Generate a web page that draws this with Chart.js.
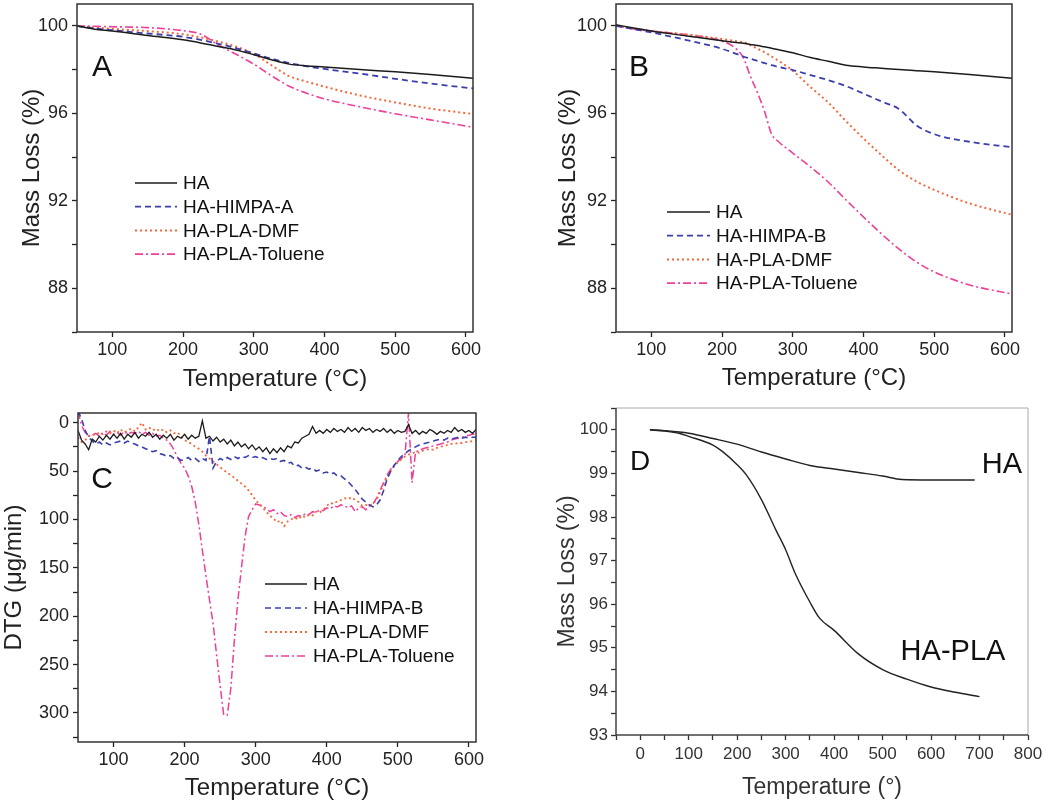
<!DOCTYPE html>
<html>
<head>
<meta charset="utf-8">
<title>TGA / DTG</title>
<script src="https://cdn.jsdelivr.net/npm/chart.js@4.4.0/dist/chart.umd.min.js"></script>
<style>
  body { margin: 0; background: #fff; }
  .panel { position: absolute; }
</style>
</head>
<body>
<div class="panel" style="left:0;top:0"><canvas id="chartA" width="525" height="400"></canvas></div>
<div class="panel" style="left:539px;top:0"><canvas id="chartB" width="511" height="400"></canvas></div>
<div class="panel" style="left:0;top:400px"><canvas id="chartC" width="525" height="411"></canvas></div>
<div class="panel" style="left:539px;top:400px"><canvas id="chartD" width="511" height="411"></canvas></div>
<script>
const fontFamily = "'Liberation Sans', Arial, sans-serif";

// Panel A - TGA, HIMPA-A
const tempA = [50, 75, 100, 150, 200, 225, 250, 275, 300, 325, 350, 375, 400, 450, 500, 550, 610];
const haA      = [100.0, 99.85, 99.77, 99.56, 99.36, 99.22, 99.06, 98.9, 98.68, 98.45, 98.25, 98.17, 98.12, 98.0, 97.9, 97.78, 97.6];
const himpaA   = [100.0, 99.88, 99.8, 99.65, 99.5, 99.36, 99.18, 98.98, 98.74, 98.5, 98.3, 98.15, 98.03, 97.82, 97.58, 97.36, 97.14];
const dmfA     = [100.0, 99.92, 99.86, 99.76, 99.62, 99.47, 99.28, 99.05, 98.72, 98.2, 97.7, 97.45, 97.22, 96.82, 96.5, 96.22, 95.97];
const tolueneA = [100.0, 99.98, 99.96, 99.92, 99.78, 99.62, 99.12, 98.7, 98.25, 97.72, 97.24, 96.92, 96.66, 96.3, 95.98, 95.7, 95.36];

// Panel B - TGA, HIMPA-B
const tempB = [50, 75, 100, 150, 200, 220, 230, 240, 250, 260, 270, 280, 300, 325, 350, 375, 400, 425, 450, 475, 500, 550, 610];
const haB      = [100.05, 99.9, 99.76, 99.54, 99.32, 99.24, 99.2, 99.15, 99.1, 99.04, 98.98, 98.91, 98.77, 98.55, 98.38, 98.2, 98.12, 98.06, 98.0, 97.95, 97.9, 97.78, 97.6];
const himpaB   = [100.0, 99.85, 99.7, 99.35, 98.95, 98.72, 98.6, 98.5, 98.4, 98.3, 98.2, 98.12, 97.98, 97.75, 97.52, 97.25, 96.9, 96.55, 96.2, 95.45, 95.05, 94.7, 94.45];
const dmfB     = [100.0, 99.88, 99.76, 99.6, 99.4, 99.3, 99.25, 99.12, 98.95, 98.8, 98.6, 98.4, 97.95, 97.2, 96.5, 95.65, 94.85, 94.1, 93.4, 92.88, 92.5, 91.88, 91.36];
const tolueneB = [100.0, 99.86, 99.76, 99.6, 99.3, 98.95, 98.55, 97.7, 96.95, 96.1, 95.05, 94.7, 94.18, 93.55, 92.86, 92.05, 91.26, 90.5, 89.8, 89.2, 88.75, 88.15, 87.74];

// Panel C - DTG
const tempC = [
  50, 55, 60, 65, 70, 75, 80, 85, 90, 95,
  100, 105, 110, 115, 120, 125, 130, 135, 140, 145,
  150, 155, 160, 165, 170, 175, 180, 185, 190, 195,
  200, 205, 210, 215, 220, 225, 230, 235, 240, 245,
  250, 255, 260, 265, 270, 275, 280, 285, 290, 295,
  300, 305, 310, 315, 320, 325, 330, 335, 340, 345,
  350, 355, 360, 365, 370, 375, 380, 385, 390, 395,
  400, 405, 410, 415, 420, 425, 430, 435, 440, 445,
  450, 455, 460, 465, 470, 475, 480, 485, 490, 495,
  500, 505, 510, 515, 520, 525, 530, 535, 540, 545,
  550, 555, 560, 565, 570, 575, 580, 585, 590, 595,
  600, 605, 610
];
const haC = [
  8, 18, 22, 28, 17, 20, 14, 18, 13, 17,
  12, 16, 11, 17, 12, 15, 10, 16, 12, 14,
  10, 15, 12, 17, 13, 16, 12, 18, 14, 16,
  12, 17, 13, 16, 14, -2, 16, 14, 19, 15,
  20, 17, 22, 18, 24, 20, 25, 22, 27, 23,
  28, 25, 30, 26, 32, 27, 31, 26, 30, 24,
  26, 20, 21, 16, 14, 12, 4, 11, 8, 11,
  7, 10, 6, 9, 7, 10, 5, 9, 6, 10,
  5, 8, 6, 10, 7, 9, 6, 10, 7, 11,
  8, 10, 9, 2, 11, 8, 12, 9, 11, 7,
  9, 12, 9, 11, 8, 10, 5, 9, 7, 10,
  8, 11, 7
];
const himpaC = [
  -12, -4, 8, 15, 19, 22, 20, 23, 21, 23,
  21, 20, 19, 21, 19, 21, 22, 24, 25, 27,
  28, 30, 29, 32, 33, 35, 34, 37, 36, 39,
  38, 36, 39, 37, 40, 37, 39, 14, 47, 40,
  37, 39, 36, 38, 35, 37, 35, 36, 34, 36,
  35, 37, 36, 38, 37, 38, 37, 40, 39, 42,
  41, 45, 44, 47, 46, 48, 47, 50, 49, 52,
  51, 53, 52, 55, 55, 58, 61, 65, 69, 74,
  79, 82, 85, 87, 85, 80, 70, 58, 50, 44,
  39, 35, 32, 29, 27, 25, 23, 22, 21, 20,
  19, 18, 17, 18, 16, 17, 16, 15, 16, 15,
  16, 15, 15
];
const dmfC = [
  15, 20, 18, 14, 12, 13, 10, 12, 9, 11,
  8, 11, 7, 10, 8, 6, 9, 5, 0, 7,
  5, 8, 6, 9, 7, 10, 8, 11, 10, 14,
  18, 20, 22, 25, 27, 30, 34, 37, 40, 43,
  46, 49, 52, 54, 57, 60, 63, 66, 70, 75,
  80, 84, 88, 92, 96, 99, 103, 101, 107, 102,
  100, 98, 100, 96, 98, 95, 96, 92, 93, 90,
  86, 83, 84, 81, 80, 78, 79, 77, 80, 82,
  86, 85, 86, 84, 80, 72, 64, 56, 50, 45,
  41, 38, 35, 33, 32, 30, 31, 29, 28, 27,
  28, 26, 25, 24, 23, 22, 22, 21, 21, 20,
  20, 19, 18
];
const tolueneC = [
  -12, 3, 10, 14, 13, 11, 14, 10, 13, 9,
  12, 10, 13, 9, 12, 10, 11, 9, 12, 10,
  13, 11, 14, 13, 16, 18, 22, 28, 36, 42,
  47, 55, 66, 82, 105, 132, 158, 183, 207, 240,
  272, 302, 302, 275, 225, 183, 150, 118, 97, 90,
  84, 85, 86, 89, 92, 90, 94, 92, 96, 97,
  95, 98, 96, 97, 94, 95, 92, 93, 90, 91,
  88, 89, 86, 87, 85, 86, 88, 86, 92, 88,
  87, 90, 86, 84, 78, 70, 62, 54, 48, 44,
  40, 37, 34, -10, 62, 30, 29, 27, 26, 25,
  24, 23, 22, 21, 20, 18, 17, 16, 15, 14,
  13, 12, 11
];

// Panel D - TGA, HA vs HA-PLA
const tempD_HA = [20, 50, 100, 150, 200, 250, 300, 350, 400, 450, 500, 540, 600, 690];
const haD      = [100.0, 99.98, 99.92, 99.8, 99.67, 99.49, 99.33, 99.18, 99.1, 99.02, 98.94, 98.86, 98.85, 98.85];
const tempD_PLA = [20, 50, 80, 100, 150, 170, 200, 220, 250, 280, 300, 320, 350, 370, 400, 450, 500, 550, 600, 650, 700];
const haPlaD    = [100.0, 99.97, 99.92, 99.85, 99.65, 99.5, 99.2, 98.95, 98.4, 97.7, 97.25, 96.7, 96.05, 95.68, 95.4, 94.86, 94.5, 94.28, 94.1, 93.98, 93.88];

// tick positions and which ones carry labels
const ticksTempAC = [100, 200, 300, 400, 500, 600];
const ticksMass = [86, 88, 90, 92, 94, 96, 98, 100];
const labelsMass = [88, 92, 96, 100];
const ticksDTG = [0, 25, 50, 75, 100, 125, 150, 175, 200, 225, 250, 275, 300, 325];
const labelsDTG = [0, 50, 100, 150, 200, 250, 300];
const ticksTempD = [-50, 0, 50, 100, 150, 200, 250, 300, 350, 400, 450, 500, 550, 600, 650, 700, 750, 800];
const labelsTempD = [0, 100, 200, 300, 400, 500, 600, 700, 800];
const ticksMassD = [93, 93.5, 94, 94.5, 95, 95.5, 96, 96.5, 97, 97.5, 98, 98.5, 99, 99.5, 100, 100.5];
const labelsMassD = [93, 94, 95, 96, 97, 98, 99, 100];

const colHA = '#1c1c1c', colHimpa = '#3b3fae', colDmf = '#f4683c', colTol = '#ee3f99';

function pts(xs, ys) {
  return xs.map((x, i) => ({ x: x, y: ys[i] }));
}

function series(label, xs, ys, color, dash, width, smooth) {
  return {
    label: label,
    data: pts(xs, ys),
    borderColor: color,
    borderWidth: width,
    borderDash: dash,
    pointRadius: 0,
    fill: false,
    tension: smooth ? 0.4 : 0,
    cubicInterpolationMode: smooth ? 'monotone' : 'default'
  };
}

function axis(o) {
  return {
    type: 'linear',
    min: o.min,
    max: o.max,
    reverse: !!o.reverse,
    afterBuildTicks: s => { s.ticks = o.ticks.map(v => ({ value: v })); },
    afterFit: s => {
      if (s.isHorizontal()) s.height = o.size; else s.width = o.size;
      // keep the plot box where the figure has it
      s.paddingTop = 0; s.paddingBottom = 0; s.paddingLeft = 0; s.paddingRight = 0;
    },
    grid: { drawOnChartArea: false, drawTicks: true, tickLength: 5, tickColor: o.color, tickWidth: 1.3 },
    border: { display: false },
    ticks: {
      autoSkip: false, maxRotation: 0, padding: o.tickPad, color: o.color,
      font: { family: fontFamily, size: o.fontSize },
      callback: v => (o.labels.includes(v) ? String(v) : '')
    },
    title: {
      display: true, text: o.title, color: o.color,
      font: { family: fontFamily, size: o.titleSize, lineHeight: 1.2 },
      padding: o.titlePad
    }
  };
}

// frame, panel letters and in-plot legend
const panelDecor = {
  id: 'panelDecor',
  afterDraw(chart, args, opts) {
    const ctx = chart.ctx;
    const a = chart.chartArea;
    ctx.save();
    if (opts.openFrame) {
      ctx.strokeStyle = '#aaa';
      ctx.lineWidth = 1;
      ctx.beginPath();
      ctx.moveTo(a.left, a.top); ctx.lineTo(a.right, a.top); ctx.lineTo(a.right, a.bottom);
      ctx.stroke();
      ctx.strokeStyle = '#444';
      ctx.lineWidth = 1.5;
      ctx.beginPath();
      ctx.moveTo(a.left, a.top); ctx.lineTo(a.left, a.bottom); ctx.lineTo(a.right, a.bottom);
      ctx.stroke();
    } else {
      ctx.strokeStyle = '#333';
      ctx.lineWidth = 1.5;
      ctx.strokeRect(a.left, a.top, a.right - a.left, a.bottom - a.top);
    }
    ctx.textBaseline = 'middle';
    ctx.fillStyle = '#111';
    (opts.labels || []).forEach(l => {
      ctx.font = l.size + 'px ' + fontFamily;
      ctx.textAlign = 'center';
      ctx.fillText(l.text, l.x, l.y);
    });
    const lg = opts.legend;
    if (lg) {
      chart.data.datasets.forEach((ds, i) => {
        const y = lg.y + i * lg.gap;
        ctx.strokeStyle = ds.borderColor;
        ctx.lineWidth = ds.borderWidth;
        ctx.setLineDash(ds.borderDash || []);
        ctx.beginPath();
        ctx.moveTo(lg.x, y); ctx.lineTo(lg.x + lg.len, y);
        ctx.stroke();
        ctx.setLineDash([]);
        ctx.font = lg.size + 'px ' + fontFamily;
        ctx.textAlign = 'left';
        ctx.fillStyle = '#111';
        ctx.fillText(ds.label, lg.x + lg.len + 6, y + 1);
      });
    }
    ctx.restore();
  }
};

function buildPanel(id, datasets, padding, xAxis, yAxis, decor) {
  return new Chart(document.getElementById(id), {
    type: 'line',
    data: { datasets: datasets },
    options: {
      responsive: false,
      animation: false,
      layout: { padding: padding },
      plugins: { legend: { display: false }, tooltip: { enabled: false }, panelDecor: decor },
      scales: { x: axis(xAxis), y: axis(yAxis) }
    },
    plugins: [panelDecor]
  });
}

const dashHimpa = [6, 4], dashDmf = [2, 3], dashTol = [8, 3, 2, 3];

// A
buildPanel('chartA', [
  series('HA', tempA, haA, colHA, [], 1.5, true),
  series('HA-HIMPA-A', tempA, himpaA, colHimpa, dashHimpa, 1.8, true),
  series('HA-PLA-DMF', tempA, dmfA, colDmf, dashDmf, 2, true),
  series('HA-PLA-Toluene', tempA, tolueneA, colTol, dashTol, 1.6, true)
], { left: 0, top: 4, right: 52, bottom: 0 },
{ min: 50, max: 610, ticks: ticksTempAC, labels: ticksTempAC, size: 68, tickPad: 2, color: '#222', fontSize: 18,
  title: 'Temperature (\u00B0C)', titleSize: 24, titlePad: { top: 0, bottom: 6 } },
{ min: 86, max: 101, ticks: ticksMass, labels: labelsMass, size: 77, tickPad: 4, color: '#222', fontSize: 18,
  title: 'Mass Loss (%)', titleSize: 24, titlePad: { top: 17.6, bottom: 0 } },
{ labels: [{ text: 'A', x: 102, y: 68, size: 30 }], legend: { x: 135, y: 183, gap: 23.7, len: 42, size: 19 } });

// B
buildPanel('chartB', [
  series('HA', tempB, haB, colHA, [], 1.5, true),
  series('HA-HIMPA-B', tempB, himpaB, colHimpa, dashHimpa, 1.8, true),
  series('HA-PLA-DMF', tempB, dmfB, colDmf, dashDmf, 2, true),
  series('HA-PLA-Toluene', tempB, tolueneB, colTol, dashTol, 1.6, true)
], { left: 0, top: 4, right: 38, bottom: 0 },
{ min: 50, max: 610, ticks: ticksTempAC, labels: ticksTempAC, size: 68, tickPad: 2, color: '#222', fontSize: 18,
  title: 'Temperature (\u00B0C)', titleSize: 24, titlePad: { top: 0, bottom: 7.6 } },
{ min: 86, max: 101, ticks: ticksMass, labels: labelsMass, size: 77, tickPad: 4, color: '#222', fontSize: 18,
  title: 'Mass Loss (%)', titleSize: 24, titlePad: { top: 14.6, bottom: 0 } },
{ labels: [{ text: 'B', x: 100, y: 68, size: 30 }], legend: { x: 128, y: 212, gap: 23.7, len: 43, size: 19 } });

// C
buildPanel('chartC', [
  series('HA', tempC, haC, colHA, [], 1.3, false),
  series('HA-HIMPA-B', tempC, himpaC, colHimpa, dashHimpa, 1.6, false),
  series('HA-PLA-DMF', tempC, dmfC, colDmf, dashDmf, 1.8, false),
  series('HA-PLA-Toluene', tempC, tolueneC, colTol, dashTol, 1.5, false)
], { left: 0, top: 13, right: 49, bottom: 0 },
{ min: 50, max: 610, ticks: ticksTempAC, labels: ticksTempAC, size: 69, tickPad: 2, color: '#222', fontSize: 18,
  title: 'Temperature (\u00B0C)', titleSize: 24, titlePad: { top: 0, bottom: 8.6 } },
{ min: -10, max: 330, reverse: true, ticks: ticksDTG, labels: labelsDTG, size: 78, tickPad: 4, color: '#222', fontSize: 18,
  title: 'DTG (\u03BCg/min)', titleSize: 24, titlePad: { top: 0, bottom: 0 } },
{ labels: [{ text: 'C', x: 102, y: 80, size: 30 }], legend: { x: 265, y: 184, gap: 24, len: 42, size: 19 } });

// D
buildPanel('chartD', [
  series('HA', tempD_HA, haD, '#222', [], 1.4, true),
  series('HA-PLA', tempD_PLA, haPlaD, '#222', [], 1.4, true)
], { left: 0, top: 8, right: 22, bottom: 0 },
{ min: -50, max: 800, ticks: ticksTempD, labels: labelsTempD, size: 76, tickPad: 4, color: '#333', fontSize: 17,
  title: 'Temperature (\u00B0)', titleSize: 23, titlePad: { top: 0, bottom: 9.2 } },
{ min: 93, max: 100.5, ticks: ticksMassD, labels: labelsMassD, size: 77, tickPad: 3, color: '#333', fontSize: 17,
  title: 'Mass Loss (%)', titleSize: 23, titlePad: { top: 15.2, bottom: 0 } },
{ openFrame: true, labels: [
  { text: 'D', x: 101, y: 62, size: 28 },
  { text: 'HA', x: 463, y: 65, size: 29 },
  { text: 'HA-PLA', x: 414, y: 252, size: 29 }
] });
</script>
</body>
</html>
